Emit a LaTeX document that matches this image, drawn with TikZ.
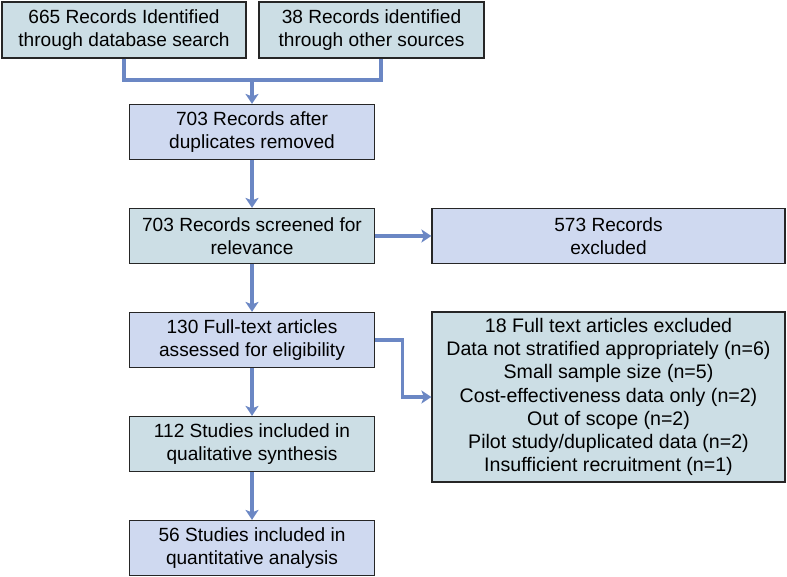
\documentclass[tikz,border=0pt]{standalone}
\usepackage{fontspec}
\setmainfont{Liberation Sans}
\usetikzlibrary{arrows.meta}

\definecolor{tealbox}{rgb}{0.80, 0.87, 0.90}
\definecolor{lilacbox}{rgb}{0.81, 0.85, 0.94}
\definecolor{flowblue}{rgb}{0.42, 0.53, 0.77}

\begin{document}
\begin{tikzpicture}[x=1pt,y=1pt,yscale=-1,xscale=1,
		box/.style={draw=black!85, line width=1.2pt, align=center, inner sep=2pt,
			font=\fontsize{19.1}{22.5}\selectfont},
		tealfill/.style={box, fill=tealbox},
		lilacfill/.style={box, fill=lilacbox},
		flow/.style={draw=flowblue, line width=3.2pt},
		flowarrow/.style={flow, -{Stealth[length=10pt,width=13pt,inset=2.5pt]}}]
		% Set diagram bounds to the full frame
		\useasboundingbox (0,0) rectangle (787,577);

		% Identification boxes
		\node[tealfill, minimum width=244pt, minimum height=56pt] (recdb) at (124,30) {665 Records Identified\\through database search};
		\node[tealfill, minimum width=225pt, minimum height=56pt] (recother) at (371.5,30) {38 Records identified\\through other sources};

		% Records after duplicates and screening
		\node[lilacfill, minimum width=245pt, minimum height=55pt] (dedup) at (252,132) {703 Records after\\duplicates removed};
		\node[tealfill, minimum width=245pt, minimum height=55pt] (screen) at (252,236) {703 Records screened for\\relevance};
		\node[lilacfill, minimum width=353pt, minimum height=55pt] (excl) at (608.5,236) {573 Records\\excluded};

		% Eligibility
		\node[lilacfill, minimum width=245pt, minimum height=55pt] (fulltext) at (252,340) {130 Full-text articles\\assessed for eligibility};
		\node[tealfill, minimum width=353pt, minimum height=170pt, font=\fontsize{19.6}{23.3}\selectfont] (ftexcl) at (608.5,397) {18 Full text articles excluded\\Data not stratified appropriately (n=6)\\Small sample size (n=5)\\Cost-effectiveness data only (n=2)\\Out of scope (n=2)\\Pilot study/duplicated data (n=2)\\Insufficient recruitment (n=1)};

		% Included studies
		\node[tealfill, minimum width=245pt, minimum height=55pt] (qual) at (252,444) {112 Studies included in\\qualitative synthesis};
		\node[lilacfill, minimum width=245pt, minimum height=55pt] (quant) at (252,548) {56 Studies included in\\quantitative analysis};

		% Joining the two sources
		\coordinate (join) at (252,80);
		\draw[flow] (recdb.south) |- (join) -| ([xshift=9.5pt]recother.south);
		\draw[flowarrow] (join) -- (dedup.north);

		% Main flow down the left column
		\draw[flowarrow] (dedup.south) -- (screen.north);
		\draw[flowarrow] (screen.south) -- (fulltext.north);
		\draw[flowarrow] (fulltext.south) -- (qual.north);
		\draw[flowarrow] (qual.south) -- (quant.north);

		% Exclusions to the right
		\draw[flowarrow] (screen.east) -- (excl.west);
		\draw[flowarrow] (fulltext.east) -- ++(27.5,0) |- (ftexcl.west);
	\end{tikzpicture}
\end{document}
